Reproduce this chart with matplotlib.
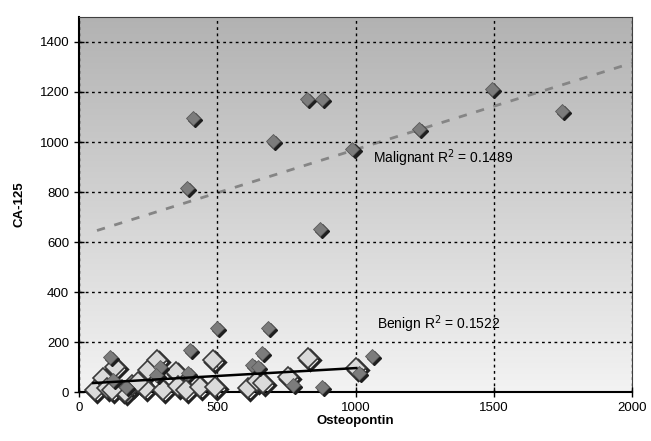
import matplotlib
matplotlib.use("Agg")
import matplotlib.pyplot as plt
import matplotlib.transforms as mtransforms
import numpy as np

plt.rcParams['font.family'] = ['Liberation Sans', 'DejaVu Sans']

# malignant cases (osteopontin, CA-125)
mal_x = [411, 823, 877, 700, 390, 989, 1231, 1495, 1747, 870, 498, 683, 401, 660,
         1058, 877, 112, 292, 395, 624, 647, 773, 123, 1014, 280, 170]
mal_y = [1097, 1173, 1173, 1005, 818, 973, 1053, 1212, 1125, 654, 255, 255, 168, 156,
         144, 20, 140, 100, 76, 108, 100, 28, 48, 76, 70, 20]

# benign cases
ben_x = [58, 85, 100, 130, 154, 166, 190, 238, 250, 281, 304, 352, 358, 386, 437,
         484, 491, 610, 643, 665, 755, 827, 1003, 120, 215]
ben_y = [8, 55, 15, 101, 8, 0, 28, 15, 88, 128, 8, 81, 24, 8, 20,
         128, 20, 16, 45, 35, 60, 138, 96, 10, 40]

# trend lines (start/end points)
mal_trend_x = [65, 2000]
mal_trend_y = [646, 1316]
ben_trend_x = [51, 1003]
ben_trend_y = [36, 96]

fig = plt.figure(figsize=(6.51, 4.41), dpi=100)
ax = fig.add_axes([0.1214, 0.111, 0.8494, 0.8505])

# gradient background
grad = np.linspace(0, 1, 256).reshape(-1, 1)
cmap = matplotlib.colors.LinearSegmentedColormap.from_list("bg", ["#f3f3f3", "#b2b2b2"])
ax.imshow(grad, extent=[0, 1, 0, 1], transform=ax.transAxes, cmap=cmap,
          aspect="auto", origin="lower", zorder=0)

ax.set_xlim(0, 2000)
ax.set_ylim(0, 1500)
ax.set_xticks([0, 500, 1000, 1500, 2000])
ax.set_yticks(range(0, 1500, 200))
ax.grid(True, color="black", linestyle=(0, (2, 2.5)), linewidth=1)
ax.set_axisbelow(False)

shadow = mtransforms.offset_copy(ax.transData, fig=fig, x=1.5, y=-1.5, units="points")

# benign
ax.plot(ben_x, ben_y, "D", ms=10, mfc="none", mec="#222222", mew=2.2,
        transform=shadow, zorder=3, clip_on=False)
ax.plot(ben_x, ben_y, "D", ms=10, mfc="#dadada", mec="#3a3a3a", mew=1.2, zorder=3,
        clip_on=False)

# malignant
ax.plot(mal_x, mal_y, "D", ms=7, mfc="#1e1e1e", mec="#1e1e1e", transform=shadow,
        zorder=4, clip_on=False)
ax.plot(mal_x, mal_y, "D", ms=7, mfc="#7c7c7c", mec="#5a5a5a", mew=0.6, zorder=4,
        clip_on=False)

ax.plot(mal_trend_x, mal_trend_y, color="#858585", linestyle=(0, (3, 3.5)), lw=2, zorder=2)
ax.plot(ben_trend_x, ben_trend_y, color="black", lw=1.8, zorder=5)

ax.text(1065, 935, "Malignant R$^2$ = 0.1489", fontsize=10, va="center", zorder=6)
ax.text(1076, 272, "Benign R$^2$ = 0.1522", fontsize=10, va="center", zorder=6)

ax.set_xlabel("Osteopontin", fontsize=9.5, fontweight="bold", labelpad=1)
ax.set_ylabel("CA-125", fontsize=9.5, fontweight="bold", labelpad=10)
ax.tick_params(direction="inout", length=7, labelsize=9.5, color="black", width=1)
for side in ["top", "right"]:
    ax.spines[side].set_color("#404040")
ax.spines["left"].set_linewidth(1.5)
ax.spines["bottom"].set_linewidth(1.5)

fig.savefig("out.png", dpi=100)
